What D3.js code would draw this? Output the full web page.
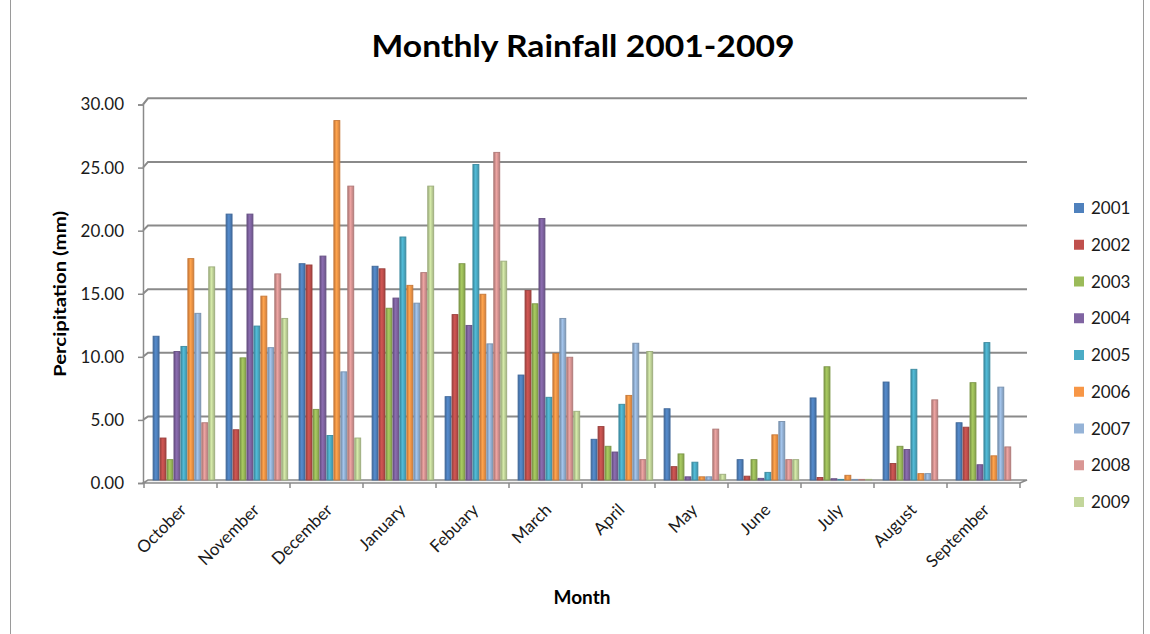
<!DOCTYPE html>
<html><head><meta charset="utf-8">
<script src="https://cdn.jsdelivr.net/npm/d3@7"></script>
<style>body{margin:0;background:#fff}svg{display:block;font-family:Lato,"Open Sans",sans-serif}</style>
</head><body><svg id="c" width="1150" height="634"></svg>
<script>
const months = ["October","November","December","January","Febuary","March","April","May","June","July","August","September"];
const years = ["2001","2002","2003","2004","2005","2006","2007","2008","2009"];
const colors = ["#4F81BD","#C0504D","#9BBB59","#8064A2","#4BACC6","#F79646","#95B3D7","#D99694","#C3D69B"];
const yTicks = [0,5,10,15,20,25,30];
const s2001 = [11.3,20.9,17.0,16.8,6.55,8.25,3.2,5.6,1.6,6.45,7.7,4.5];
const s2002 = [3.3,3.95,16.9,16.6,13.0,14.9,4.2,1.05,0.3,0.2,1.3,4.15];
const s2003 = [1.6,9.6,5.55,13.5,17.0,13.85,2.65,2.05,1.6,8.9,2.65,7.65];
const s2004 = [10.1,20.9,17.6,14.3,12.15,20.55,2.2,0.25,0.13,0.1,2.4,1.2];
const s2005 = [10.5,12.1,3.5,19.1,24.8,6.5,5.95,1.4,0.6,0.05,8.7,10.8];
const s2006 = [17.4,14.45,28.25,15.3,14.6,9.95,6.65,0.25,3.55,0.37,0.5,1.9];
const s2007 = [13.1,10.4,8.5,13.9,10.7,12.7,10.75,0.25,4.6,0.05,0.5,7.3];
const s2008 = [4.5,16.2,23.1,16.3,25.75,9.65,1.6,4.0,1.6,0.05,6.3,2.6];
const s2009 = [16.75,12.7,3.3,23.1,17.2,5.4,10.1,0.45,1.6,0.05,0,0];
const series = [s2001,s2002,s2003,s2004,s2005,s2006,s2007,s2008,s2009];

const svg = d3.select("#c");
// frame
svg.append("rect").attr("x",10.5).attr("y",-5).attr("width",1133).attr("height",700)
  .attr("fill","none").attr("stroke","#9a9a9a");

const x0 = d3.scaleBand().domain(months).range([144,1020]);
const x1 = d3.scaleBand().domain(years).range([8.6,71.2]);
const yBar = d3.scaleLinear().domain([0,30]).range([480,98.3]);
const yAx = d3.scaleLinear().domain([0,30]).range([483,104.5]);

// gradients
const defs = svg.append("defs");
colors.forEach((c,i)=>{
  const g = defs.append("linearGradient").attr("id","g"+i).attr("x1","0").attr("x2","1").attr("y1","0").attr("y2","0");
  const cc = d3.color(c);
  g.append("stop").attr("offset","0%").attr("stop-color",cc.darker(0.6));
  g.append("stop").attr("offset","45%").attr("stop-color",cc.brighter(0.25));
  g.append("stop").attr("offset","100%").attr("stop-color",cc.darker(0.5));
});

// wall gridlines
const grid = svg.append("g");
yTicks.forEach(t=>{
  if(t===0) return;
  grid.append("path").attr("d",`M143,${yAx(t)}L148,${yBar(t)}L1027,${yBar(t)}`)
    .attr("fill","none").attr("stroke","#8a8a8a").attr("stroke-width",2);
});
// floor
grid.append("path").attr("d",`M143,${yAx(0)}L1020,${yAx(0)}L1027,${yBar(0)}L148,${yBar(0)}Z`)
  .attr("fill","#f2f2f2").attr("stroke","#8a8a8a").attr("stroke-width",1.5);

// y axis
const yAxis = d3.axisLeft(yAx).tickValues(yTicks).tickSize(5).tickPadding(14).tickFormat(d3.format(".2f"));
const ga = svg.append("g").attr("transform","translate(143,0)").call(yAxis);
ga.select(".domain").attr("stroke","#8a8a8a").attr("stroke-width",1.5);
ga.selectAll(".tick line").attr("stroke","#8a8a8a").attr("stroke-width",1.5);
ga.selectAll("text").attr("font-size",17).attr("fill","#1a1a1a").attr("font-family","Lato");

// x axis
const xAxis = d3.axisBottom(x0).tickSize(0).tickFormat("");
const gx = svg.append("g").attr("transform",`translate(0,${yAx(0)})`).call(xAxis);
gx.select(".domain").remove();
months.concat(["_end"]).forEach((m,i)=>{
  const xx = i<months.length ? x0(m) : x0.range()[1];
  gx.append("line").attr("x1",xx).attr("x2",xx).attr("y1",0).attr("y2",5).attr("stroke","#8a8a8a").attr("stroke-width",1.5);
});
svg.append("g").selectAll("text").data(months).join("text")
  .attr("transform",d=>`translate(${x0(d)+x0.bandwidth()/2+7},511) rotate(-45)`)
  .attr("text-anchor","end").attr("font-size",17).attr("fill","#1a1a1a").text(d=>d);

// bars
const gb = svg.append("g");
series.forEach((s,si)=>{
  gb.append("g").selectAll("rect").data(s).join("rect")
    .attr("x",(d,i)=>x0(months[i])+x1(years[si])+0.5)
    .attr("width",x1.bandwidth()-1)
    .attr("y",d=>yBar(d))
    .attr("height",d=>Math.max(0,yBar(0)-yBar(d)))
    .attr("fill",`url(#g${si})`)
    .attr("stroke",d3.color(colors[si]).darker(0.6)).attr("stroke-width",0.9);
});

// title
svg.append("text").attr("x",583).attr("y",57).attr("text-anchor","middle")
  .attr("font-size",31).attr("font-weight","bold").attr("fill","#000")
  .attr("textLength",423).attr("lengthAdjust","spacingAndGlyphs").text("Monthly Rainfall 2001-2009");
svg.append("text").attr("transform","translate(66,294) rotate(-90)").attr("text-anchor","middle")
  .attr("font-size",17).attr("font-weight","bold").attr("fill","#000")
  .attr("textLength",166).attr("lengthAdjust","spacingAndGlyphs").text("Percipitation (mm)");
svg.append("text").attr("x",582).attr("y",604).attr("text-anchor","middle")
  .attr("font-size",18).attr("font-weight","bold").attr("fill","#000")
  .attr("textLength",57).attr("lengthAdjust","spacingAndGlyphs").text("Month");

// legend
const lg = svg.append("g");
years.forEach((y,i)=>{
  const cy = 208 + i*36.75;
  lg.append("rect").attr("x",1074).attr("y",cy-5).attr("width",10).attr("height",10).attr("fill",colors[i]);
  lg.append("text").attr("x",1091).attr("y",cy+6).attr("font-size",17).attr("fill","#1a1a1a").text(y);
});
</script></body></html>
